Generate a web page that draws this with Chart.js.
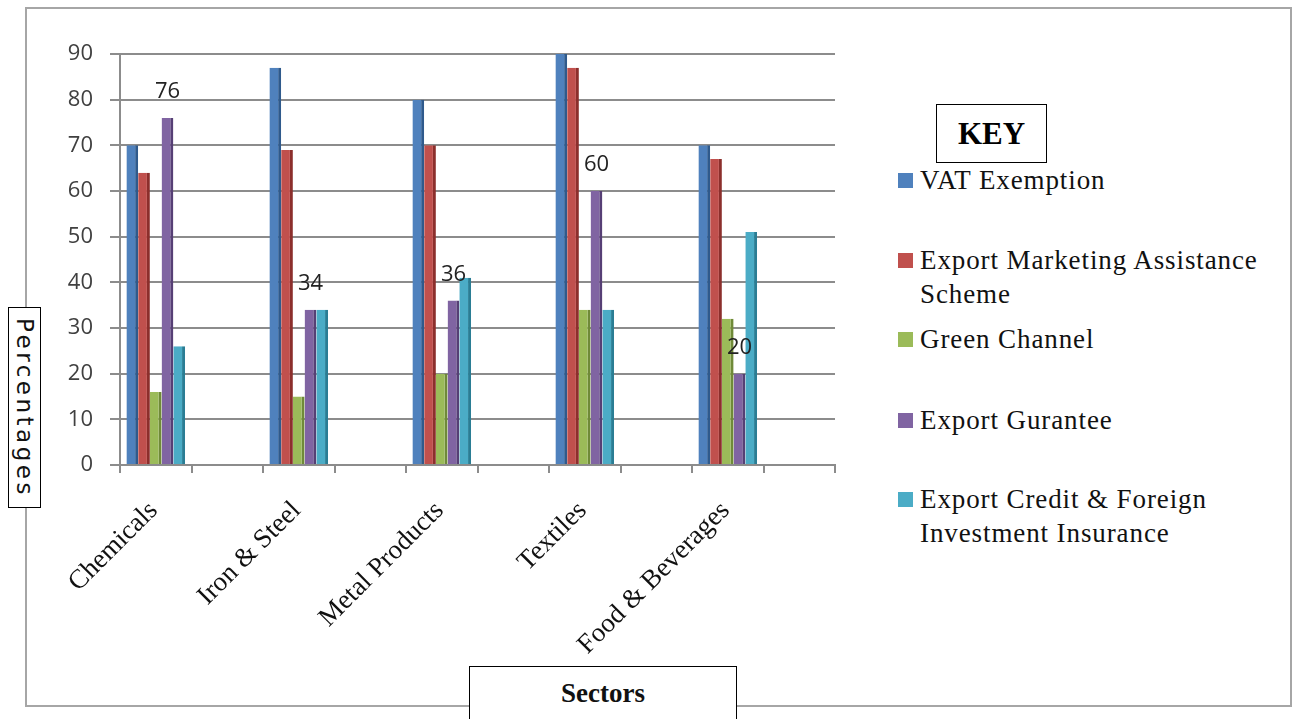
<!DOCTYPE html>
<html>
<head>
<meta charset="utf-8">
<script src="https://cdn.jsdelivr.net/npm/chart.js@4.4.1/dist/chart.umd.min.js"></script>
<style>
  body { margin: 0; background: #fff; width: 1296px; height: 719px; overflow: hidden; position: relative; }
  #frame { position: absolute; left: 25px; top: 7px; width: 1263px; height: 696px; border: 2px solid #a6a6a6; }
  #wrap { position: absolute; left: 0; top: 0; width: 850px; height: 719px; }
  #yTitle {
    position: absolute; left: 8px; top: 307px; width: 31px; height: 199px;
    border: 1.5px solid #000; background: #fff;
    writing-mode: vertical-rl; text-align: center; line-height: 31px;
    font-family: "DejaVu Sans", sans-serif; font-size: 23px; letter-spacing: 3.5px; color: #111;
  }
  #xTitle {
    position: absolute; left: 469px; top: 666px; width: 268px; height: 60px;
    border: 1.5px solid #000; border-bottom: none; background: #fff;
    font-family: "Liberation Serif", "Times New Roman", serif; font-weight: bold; font-size: 27px;
    text-align: center; padding-top: 11px; box-sizing: border-box; color: #111;
  }
  #key {
    position: absolute; left: 936px; top: 104px; width: 109px; height: 57px;
    border: 1.5px solid #000; font-family: "Liberation Serif", serif; font-weight: bold;
    font-size: 31px; text-align: center; line-height: 57px; color: #000;
  }
  .item { position: absolute; left: 898px; font-family: "Liberation Serif", serif; font-size: 27px;
    letter-spacing: 0.9px; line-height: 34px; color: #111; }
  .item .sw { position: absolute; left: 0; top: 10px; width: 15px; height: 15px; }
  .item .tx { margin-left: 22px; }
</style>
</head>
<body>
<div id="frame"></div>
<div id="wrap"><canvas id="chart"></canvas></div>
<div id="yTitle">Percentages</div>
<div id="xTitle">Sectors</div>
<div id="key">KEY</div>
<div id="legend"></div>
<script>
const sectors = ['Chemicals', 'Iron & Steel', 'Metal Products', 'Textiles', 'Food & Beverages'];
const seriesNames = [
  'VAT Exemption',
  'Export Marketing Assistance Scheme',
  'Green Channel',
  'Export Gurantee',
  'Export Credit & Foreign Investment Insurance'
];
const vatExemption = [70, 87, 80, 90, 70];
const exportMarketing = [64, 69, 70, 87, 67];
const greenChannel = [16, 15, 20, 34, 32];
const exportGuarantee = [76, 34, 36, 60, 20];
const exportCredit = [26, 34, 41, 34, 51];
const yTicks = [0, 10, 20, 30, 40, 50, 60, 70, 80, 90];

const colors = ['#4f81bd', '#c0504d', '#9bbb59', '#8064a2', '#4bacc6'];
const sideColors = ['#2f5a8c', '#8c2f2c', '#6f8a38', '#563f75', '#2a7d94'];
const legendTops = [163, 243, 322, 403, 482];
const legendLines = [
  ['VAT Exemption'],
  ['Export Marketing Assistance', 'Scheme'],
  ['Green Channel'],
  ['Export Gurantee'],
  ['Export Credit & Foreign', 'Investment Insurance']
];

// every sector is followed by an empty slot, like the original sheet
const slotLabels = [];
sectors.forEach(s => { slotLabels.push(s); slotLabels.push(''); });
function spread(arr) {
  const out = [];
  arr.forEach(v => { out.push(v); out.push(null); });
  return out;
}

const allSeries = [vatExemption, exportMarketing, greenChannel, exportGuarantee, exportCredit];
const datasets = allSeries.map((vals, i) => ({
  label: seriesNames[i],
  data: spread(vals),
  backgroundColor: colors[i],
  borderColor: sideColors[i],
  borderWidth: { right: 3, top: 0, left: 0, bottom: 0 },
  borderSkipped: false,
  categoryPercentage: 0.82,
  barPercentage: 1.0
}));

// labels over the Export Gurantee bars
const valueLabels = {
  id: 'valueLabels',
  afterDatasetsDraw(chart) {
    const ctx = chart.ctx;
    const meta = chart.getDatasetMeta(3);
    ctx.save();
    ctx.font = '22px "Open Sans", sans-serif';
    ctx.fillStyle = '#222';
    ctx.textAlign = 'center';
    ctx.textBaseline = 'middle';
    meta.data.forEach((bar, i) => {
      const v = chart.data.datasets[3].data[i];
      if (v === null) return;
      ctx.fillText(String(v), bar.x, bar.y - 26);
    });
    ctx.restore();
  }
};

const ctx = document.getElementById('chart').getContext('2d');
new Chart(ctx, {
  type: 'bar',
  data: { labels: slotLabels, datasets: datasets },
  options: {
    responsive: true,
    maintainAspectRatio: false,
    animation: false,
    layout: { padding: { top: 54, right: 15, left: 0, bottom: 0 } },
    plugins: { legend: { display: false }, tooltip: { enabled: false } },
    scales: {
      x: {
        afterFit: s => { s.height = 254; },
        grid: { display: true, drawOnChartArea: false, tickLength: 8, color: '#8c8c8c', lineWidth: 2, offset: true },
        border: { color: '#8c8c8c', width: 2 },
        ticks: {
          autoSkip: false, maxRotation: 45, minRotation: 45, padding: 22, labelOffset: -2,
          color: '#111', font: { family: '"Liberation Serif", "Times New Roman", serif', size: 27 }
        }
      },
      y: {
        min: 0, max: 90,
        afterFit: s => { s.width = 120; },
        afterBuildTicks: s => { s.ticks = yTicks.map(v => ({ value: v })); },
        grid: { color: '#8c8c8c', lineWidth: 2, tickLength: 10 },
        border: { color: '#8c8c8c', width: 2 },
        ticks: { padding: 17, color: '#404040', font: { family: '"Open Sans", sans-serif', size: 22 } }
      }
    }
  },
  plugins: [valueLabels]
});

// legend on the right
const legend = document.getElementById('legend');
legendLines.forEach((lines, i) => {
  const d = document.createElement('div');
  d.className = 'item';
  d.style.top = legendTops[i] + 'px';
  d.innerHTML = '<div class="sw" style="background:' + colors[i] + '"></div><div class="tx">' +
    lines.map(l => l.replace(/&/g, '&amp;')).join('<br>') + '</div>';
  legend.appendChild(d);
});
</script>
</body>
</html>
